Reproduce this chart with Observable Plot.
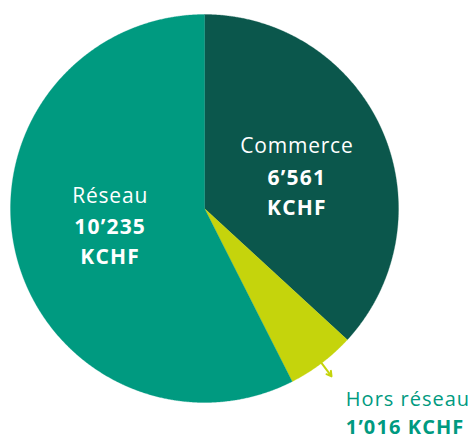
<!DOCTYPE html>
<html>
<head>
<meta charset="utf-8">
<script src="https://cdn.jsdelivr.net/npm/d3@7"></script>
<script src="https://cdn.jsdelivr.net/npm/@observablehq/plot@0.6"></script>
<style>
  html, body { margin: 0; padding: 0; background: #ffffff; }
  #chart svg { display: block; }
  .lbl-regular text { letter-spacing: 0.8px; }
  .lbl-bold text { letter-spacing: 1.2px; }
  .lbl-out-regular text { letter-spacing: 1.0px; }
  .lbl-out-bold text { letter-spacing: 1.1px; }
</style>
</head>
<body>
<div id="chart"></div>
<script>
// ---- Data ----
const categories = ["Commerce", "Hors réseau", "Réseau"];
const values = [6561, 1016, 10235];
const valueLabels = ["6’561\nKCHF", "1’016 KCHF", "10’235\nKCHF"];
const colors = ["#0b574c", "#c5d40c", "#009a80"];

// ---- Layout ----
const W = 473, H = 440;
const cx = 204, cy = 208, R = 194;
const font = "'Open Sans', sans-serif";
const inside = {
  "Commerce": {r: 0.52, shift: 0},
  "Réseau": {r: 0.5, shift: -13.5}
};

// ---- Geometry from d3.pie ----
const pie = d3.pie().sort(null).value(d => d)(values);
const slices = pie.map((p, i) => ({
  cat: categories[i], value: values[i], label: valueLabels[i],
  a0: p.startAngle, a1: p.endAngle, mid: (p.startAngle + p.endAngle) / 2
}));

const points = slices.flatMap(s => {
  const n = Math.max(2, Math.ceil((s.a1 - s.a0) / 0.005));
  const arr = [{cat: s.cat, x: 0, y: 0}];
  for (let k = 0; k <= n; k++) {
    const a = s.a0 + (s.a1 - s.a0) * k / n;
    arr.push({cat: s.cat, x: Math.sin(a), y: Math.cos(a)});
  }
  arr.push({cat: s.cat, x: 0, y: 0});
  return arr;
});

const insideLabels = slices.filter(s => inside[s.cat]).map(s => ({
  ...s,
  x: inside[s.cat].r * Math.sin(s.mid),
  y: inside[s.cat].r * Math.cos(s.mid),
  shift: inside[s.cat].shift
}));

const outside = slices.filter(s => !inside[s.cat]).map(s => ({
  ...s,
  x1: 1.0 * Math.sin(s.mid), y1: 1.0 * Math.cos(s.mid),
  x2: 1.085 * Math.sin(s.mid), y2: 1.085 * Math.cos(s.mid),
  tx: 1.25 * Math.sin(s.mid), ty: 1.25 * Math.cos(s.mid)
}));

const chart = Plot.plot({
  width: W,
  height: H,
  margin: 0,
  style: {fontFamily: font, background: "#ffffff"},
  x: {domain: [-1, 1], range: [cx - R, cx + R], axis: null},
  y: {domain: [-1, 1], range: [cy + R, cy - R], axis: null},
  color: {domain: categories, range: colors},
  marks: [
    Plot.line(points, {x: "x", y: "y", z: "cat", fill: "cat", stroke: "cat", strokeWidth: 0.3}),
    Plot.arrow(outside, {x1: "x1", y1: "y1", x2: "x2", y2: "y2", stroke: "#c5d40c", strokeWidth: 2, headLength: 7}),
    // inside labels: name
    ...insideLabels.map(s => Plot.text([s], {
      x: "x", y: "y", text: "cat", dy: s.shift - 21.5, fill: "#ffffff",
      fontSize: 21, fontWeight: 400, fontFamily: font, className: "lbl-regular"
    })),
    ...insideLabels.map(s => Plot.text([s], {
      x: "x", y: "y", text: "label", dy: s.shift + 22, fill: "#ffffff",
      fontSize: 21, fontWeight: 700, fontFamily: font, lineHeight: 1.43, className: "lbl-bold"
    })),
    // outside label
    Plot.text(outside, {x: "tx", y: "ty", text: "cat", dx: -5, dy: -2.5, textAnchor: "start",
      fill: "#009a80", fontSize: 20, fontWeight: 400, fontFamily: font, className: "lbl-out-regular"}),
    Plot.text(outside, {x: "tx", y: "ty", text: "label", dx: -5, dy: 25.5, textAnchor: "start",
      fill: "#009a80", fontSize: 20, fontWeight: 700, fontFamily: font, className: "lbl-out-bold"})
  ]
});

document.getElementById("chart").appendChild(chart);
</script>
</body>
</html>
